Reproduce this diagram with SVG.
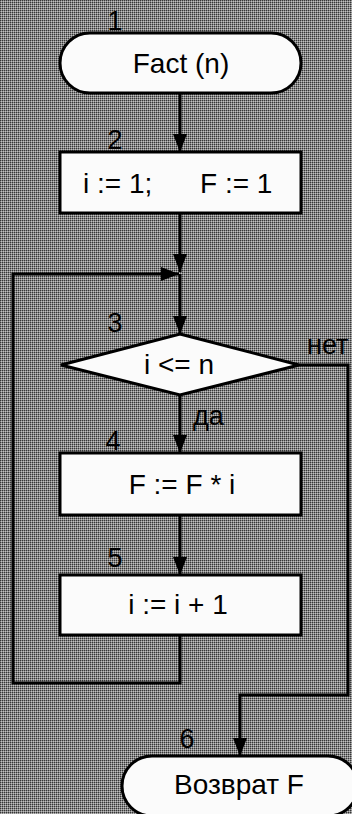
<svg xmlns="http://www.w3.org/2000/svg" width="352" height="814" viewBox="0 0 352 814">
  <defs>
    <pattern id="bg" width="2" height="2" patternUnits="userSpaceOnUse">
      <rect width="2" height="2" fill="#868686"/>
      <rect width="1" height="1" fill="#363636"/>
      <rect x="1" y="1" width="1" height="1" fill="#c0c0c0"/>
    </pattern>
    <marker id="arr" viewBox="0 0 18 14" refX="18" refY="7" markerWidth="18" markerHeight="14" orient="auto" markerUnits="userSpaceOnUse">
      <path d="M0,0 L18,7 L0,14 z" fill="#000"/>
    </marker>
    <style>
      .shape { fill: #fbfbfb; stroke: #000; stroke-width: 3; }
      .line { fill: none; stroke: #000; stroke-width: 3; }
      .t { font-family: "Liberation Sans", Arial, sans-serif; font-size: 28px; fill: #000; text-anchor: middle; }
      .ts { font-family: "Liberation Sans", Arial, sans-serif; font-size: 28px; fill: #000; }
      .num { font-family: "Liberation Sans", Arial, sans-serif; font-size: 27px; fill: #000; text-anchor: middle; }
      .lbl { font-family: "Liberation Sans", Arial, sans-serif; font-size: 27px; fill: #000; }
    </style>
  </defs>
  <rect width="352" height="814" fill="url(#bg)"/>

  <g id="connectors">
    <path class="line" d="M180,93 V152" marker-end="url(#arr)"/>
    <path class="line" d="M180,213 V272" marker-end="url(#arr)"/>
    <path class="line" d="M180,274 V334" marker-end="url(#arr)"/>
    <path class="line" d="M180,635 V683 H13 V274 H179" marker-end="url(#arr)"/>
    <path class="line" d="M180,395 V453" marker-end="url(#arr)"/>
    <path class="line" d="M180,515 V575" marker-end="url(#arr)"/>
    <path class="line" d="M299,365 H348 V695 H240 V756" marker-end="url(#arr)"/>
    <text class="lbl" x="193" y="425">да</text>
    <text class="lbl" x="307" y="354">нет</text>
  </g>

  <g id="n1">
    <rect class="shape" x="60" y="33" width="241" height="60" rx="30" ry="30"/>
    <text class="t" x="181" y="73">Fact (n)</text>
    <text class="num" x="115" y="30">1</text>
  </g>
  <g id="n2">
    <rect class="shape" x="60" y="152" width="241" height="61"/>
    <text class="ts" x="83" y="193">i := 1;</text>
    <text class="ts" x="200" y="193">F := 1</text>
    <text class="num" x="115" y="149">2</text>
  </g>
  <g id="n3">
    <polygon class="shape" points="180,334 299,365 180,395 61,365"/>
    <text class="t" x="179" y="374">i &lt;= n</text>
    <text class="num" x="115" y="332">3</text>
  </g>
  <g id="n4">
    <rect class="shape" x="60" y="453" width="241" height="62"/>
    <text class="t" x="182" y="494">F := F * i</text>
    <text class="num" x="113" y="450">4</text>
  </g>
  <g id="n5">
    <rect class="shape" x="60" y="575" width="241" height="60"/>
    <text class="t" x="178" y="614">i := i + 1</text>
    <text class="num" x="115" y="567">5</text>
  </g>
  <g id="n6">
    <rect class="shape" x="122" y="756" width="236" height="60" rx="30" ry="30"/>
    <text class="t" x="239" y="794">Возврат F</text>
    <text class="num" x="187" y="748">6</text>
  </g>
</svg>
